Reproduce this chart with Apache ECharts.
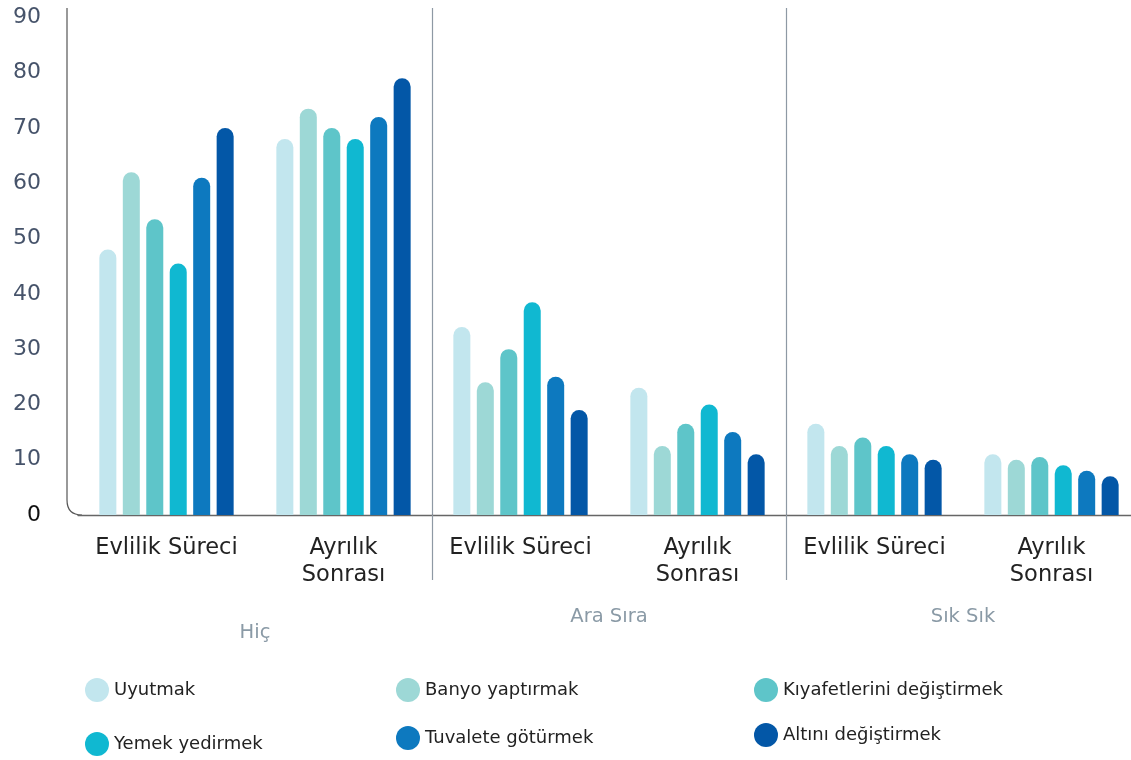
<!DOCTYPE html>
<html>
<head>
<meta charset="utf-8">
<script src="https://cdn.jsdelivr.net/npm/echarts@6/dist/echarts.min.js"></script>
<style>
html,body{margin:0;padding:0;background:#fff;}
#chart{width:1131px;height:760px;}
</style>
</head>
<body>
<div id="chart"></div>
<script>
// ---- data ----
const categories = ['Evlilik Süreci', 'Ayrılık\nSonrası', 'Evlilik Süreci', 'Ayrılık\nSonrası', 'Evlilik Süreci', 'Ayrılık\nSonrası'];
const groups = ['Hiç', 'Ara Sıra', 'Sık Sık'];
const seriesNames = ['Uyutmak', 'Banyo yaptırmak', 'Kıyafetlerini değiştirmek', 'Yemek yedirmek', 'Tuvalete götürmek', 'Altını değiştirmek'];
const uyutmak   = [48, 68, 34, 23, 16.5, 11];
const banyo     = [62, 73.5, 24, 12.5, 12.5, 10];
const kiyafet   = [53.5, 70, 30, 16.5, 14, 10.5];
const yemek     = [45.5, 68, 38.5, 20, 12.5, 9];
const tuvalet   = [61, 72, 25, 15, 11, 8];
const altini    = [70, 79, 19, 11, 10, 7];
const yTicks = [0, 10, 20, 30, 40, 50, 60, 70, 80, 90];

const seriesValues = [uyutmak, banyo, kiyafet, yemek, tuvalet, altini];
const colors = ['#c2e6ee', '#9dd8d6', '#5ec5c9', '#10b8d1', '#0d79bf', '#0357a7'];

const FONT = '"DejaVu Sans", "Noto Sans", sans-serif';
const G = {left: 78, top: 8, width: 1062, height: 507};
const yMax = 91.7;

const chart = echarts.init(document.getElementById('chart'), null, {renderer: 'canvas'});

const legendPos = [
  {left: 85, top: 678}, {left: 396, top: 678}, {left: 754, top: 678},
  {left: 85, top: 732}, {left: 396, top: 726}, {left: 754, top: 723}
];

const option = {
  animation: false,
  backgroundColor: '#fff',
  textStyle: {fontFamily: FONT},
  grid: {left: G.left, top: G.top, width: G.width, height: G.height, containLabel: false, outerBoundsMode: 'none'},
  legend: seriesNames.map((n, i) => ({
    data: [n], left: legendPos[i].left, top: legendPos[i].top,
    icon: 'circle', itemWidth: 24, itemHeight: 24, padding: 0,
    textStyle: {fontSize: 18, color: '#222', fontFamily: FONT}
  })),
  xAxis: [
    {
      type: 'category', data: categories, position: 'bottom',
      axisLine: {show: true, lineStyle: {color: '#666', width: 1.3}},
      axisTick: {show: false},
      axisLabel: {fontSize: 22.5, color: '#222', lineHeight: 27, margin: 20, fontFamily: FONT, interval: 0},
      splitLine: {show: false}
    },
    {
      type: 'category', data: groups, position: 'bottom',
      axisLine: {show: false},
      axisTick: {show: true, length: 65, inside: false,
        interval: function (i) { return i === 1 || i === 2; },
        lineStyle: {color: '#8e99a4', width: 1.2}},
      splitLine: {show: true,
        interval: function (i) { return i === 1 || i === 2; },
        lineStyle: {color: '#8e99a4', width: 1.2}},
      axisLabel: {
        margin: 92, interval: 0,
        formatter: function (v) { return v === 'Hiç' ? '{low|' + v + '}' : '{n|' + v + '}'; },
        rich: {
          low: {fontSize: 19.5, color: '#8a9aa6', fontFamily: FONT, padding: [16, 0, 0, 0]},
          n: {fontSize: 19.5, color: '#8a9aa6', fontFamily: FONT}
        }
      }
    }
  ],
  yAxis: {
    type: 'value', min: 0, max: yMax, interval: 10, offset: 11,
    axisLine: {show: false}, axisTick: {show: false}, splitLine: {show: false},
    axisLabel: {
      margin: 26, fontSize: 22, fontFamily: FONT,
      color: function (v) { return Number(v) === 0 ? '#111' : '#46536a'; },
      formatter: function (v) { return yTicks.indexOf(Math.round(v * 10) / 10) >= 0 ? String(v) : ''; }
    }
  },
  series: seriesNames.map((n, i) => ({
    name: n, type: 'bar', data: seriesValues[i], barWidth: 17, barGap: '38%',
    itemStyle: {color: colors[i], borderRadius: [8.5, 8.5, 0, 0]}
  }))
};
chart.setOption(option);

// rounded-corner vertical axis line, placed from the library's coordinates
const y0 = chart.convertToPixel({yAxisIndex: 0}, 0);
const yTop = chart.convertToPixel({yAxisIndex: 0}, yMax);
const xL = G.left - 11;
const r = 15;
chart.setOption({
  graphic: [
    {type: 'line', silent: true,
     shape: {x1: xL, y1: yTop, x2: xL, y2: y0 - r},
     style: {stroke: '#555', lineWidth: 1.2}},
    {type: 'bezierCurve', silent: true,
     shape: {x1: xL, y1: y0 - r, x2: xL + r, y2: y0, cpx1: xL, cpy1: y0},
     style: {stroke: '#555', lineWidth: 1.2, fill: null}}
  ]
});
</script>
</body>
</html>
